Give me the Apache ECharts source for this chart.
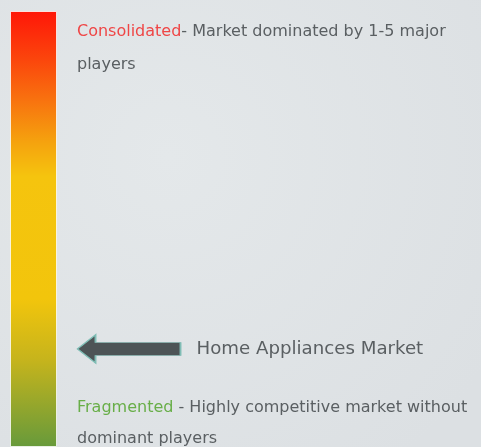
<!DOCTYPE html>
<html>
<head>
<meta charset="utf-8">
<script src="https://cdn.jsdelivr.net/npm/echarts@6/dist/echarts.min.js"></script>
<style>
  html, body { margin: 0; padding: 0; }
  #chart { width: 481px; height: 447px; }
</style>
</head>
<body>
<div id="chart"></div>
<script>
// Market concentration scale: 0 = fragmented, 1 = consolidated
const scaleCategories = ['Concentration'];
const scaleValues = [1];
const marketNames = ['Home Appliances Market'];
const marketLevels = [0.225];
const topLabel = 'Consolidated';
const topText = '- Market dominated by 1-5 major';
const topText2 = 'players';
const bottomLabel = 'Fragmented';
const bottomText = ' - Highly competitive market without';
const bottomText2 = 'dominant players';

const FONT = 'DejaVu Sans';
const TEXT_COLOR = '#5a5f62';

const chart = echarts.init(document.getElementById('chart'), null, { renderer: 'canvas' });

const yAxisBase = { type: 'value', min: 0, max: 1, show: false };

chart.setOption({
  animation: false,
  backgroundColor: {
    type: 'radial', x: 0.35, y: 0.35, r: 0.85,
    colorStops: [
      { offset: 0, color: '#e4e8ea' },
      { offset: 1, color: '#dce0e3' }
    ]
  },
  grid: [
    { left: 10, top: 11, width: 47, bottom: 0 },
    { left: 78, top: 11, width: 102, bottom: 0 }
  ],
  xAxis: [
    { type: 'category', data: scaleCategories, gridIndex: 0, show: false },
    { type: 'category', data: marketNames, gridIndex: 1, show: false }
  ],
  yAxis: [
    Object.assign({ gridIndex: 0 }, yAxisBase),
    Object.assign({ gridIndex: 1 }, yAxisBase)
  ],
  series: [
    {
      type: 'bar',
      xAxisIndex: 0, yAxisIndex: 0,
      data: scaleValues,
      barWidth: '100%',
      itemStyle: {
        borderColor: 'rgba(255,255,255,0.75)',
        borderWidth: 1,
        color: {
          type: 'linear', x: 0, y: 0, x2: 0, y2: 1,
          colorStops: [
            { offset: 0, color: '#ff1608' },
            { offset: 0.11, color: '#fb450c' },
            { offset: 0.2, color: '#f8700f' },
            { offset: 0.3, color: '#f5a20e' },
            { offset: 0.38, color: '#f5c40e' },
            { offset: 0.66, color: '#f2c50c' },
            { offset: 0.8, color: '#c6b41c' },
            { offset: 1, color: '#679a3b' }
          ]
        }
      }
    },
    {
      type: 'scatter',
      xAxisIndex: 1, yAxisIndex: 1,
      data: marketLevels,
      symbol: 'path://M0,14 L18,0 L18,7.5 L103,7.5 L103,20.5 L18,20.5 L18,28 Z',
      symbolSize: [103, 28],
      itemStyle: {
        color: '#4d5456',
        borderColor: '#7fbdb5',
        borderWidth: 1,
        opacity: 1
      },
      label: {
        show: true,
        position: 'right',
        distance: 15,
        formatter: (p) => marketNames[p.dataIndex],
        fontFamily: FONT,
        fontSize: 18.2,
        color: TEXT_COLOR
      }
    }
  ],
  graphic: [
    {
      type: 'text', left: 77, top: 15,
      style: {
        text: '{hi|' + topLabel + '}' + topText + '\n' + topText2,
        font: '16px ' + FONT,
        fill: TEXT_COLOR,
        lineHeight: 33,
        rich: { hi: { fill: '#ef4646', fontFamily: FONT, fontSize: 16 } }
      }
    },
    {
      type: 'text', left: 77, top: 392,
      style: {
        text: '{hi|' + bottomLabel + '}' + bottomText + '\n' + bottomText2,
        font: '16px ' + FONT,
        fill: TEXT_COLOR,
        lineHeight: 31,
        rich: { hi: { fill: '#68ae48', fontFamily: FONT, fontSize: 16 } }
      }
    }
  ]
});
</script>
</body>
</html>
